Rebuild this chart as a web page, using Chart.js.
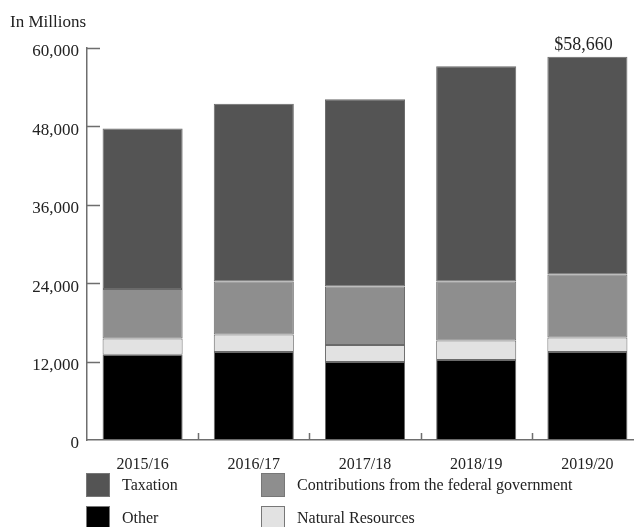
<!DOCTYPE html>
<html lang="en">
<head>
    <meta charset="UTF-8">
    <title>Revenue by Source</title>
    <script src="https://cdn.jsdelivr.net/npm/chart.js"></script>
    <style>
        html, body {
            margin: 0;
            padding: 0;
            background: #fff;
            overflow: hidden;
            width: 634px;
            height: 527px;
        }
        .chart-wrap {
            position: absolute;
            left: 0;
            top: 0;
            width: 660px;
            height: 527px;
        }
        .legend {
            position: absolute;
            left: 86px;
            top: 473px;
            display: grid;
            grid-template-columns: 175px auto;
            row-gap: 9px;
            font-family: "Liberation Serif", "DejaVu Serif", serif;
            font-size: 16px;
            color: #222;
        }
        .legend div {
            display: flex;
            align-items: center;
            height: 24px;
        }
        .legend span.box {
            width: 22px;
            height: 22px;
            border: 1px solid #777;
            margin-right: 12px;
        }
    </style>
</head>
<body>
    <div class="chart-wrap">
        <canvas id="revenueChart" width="660" height="527"></canvas>
    </div>
    <div class="legend" id="legend"></div>

    <script>
        // fiscal years and revenue by source (millions of dollars)
        const years = ['2015/16', '2016/17', '2017/18', '2018/19', '2019/20'];
        const other = [13050, 13460, 11930, 12240, 13460];
        const naturalResources = [2490, 2690, 2600, 3000, 2230];
        const federalContributions = [7560, 8110, 8970, 9020, 9640];
        const taxation = [24560, 27220, 28660, 32940, 33330];
        const yTicks = [0, 12000, 24000, 36000, 48000, 60000];

        const serif = '"Liberation Serif", "DejaVu Serif", serif';
        const axisColor = '#6e6e6e';

        // small inward tick marks on both axes, plus the total above the last bar
        const axisMarks = {
            id: 'axisMarks',
            afterDatasetsDraw(chart) {
                const ctx = chart.ctx;
                const area = chart.chartArea;
                const x = chart.scales.x;
                const y = chart.scales.y;
                ctx.save();
                ctx.strokeStyle = axisColor;
                ctx.lineWidth = 1.5;
                ctx.beginPath();
                yTicks.forEach(v => {
                    if (v === 0) return;
                    const py = Math.round(y.getPixelForValue(v)) + 0.5;
                    ctx.moveTo(area.left, py);
                    ctx.lineTo(area.left + 13, py);
                });
                for (let i = 0; i < years.length - 1; i++) {
                    const px = Math.round((x.getPixelForValue(i) + x.getPixelForValue(i + 1)) / 2) + 0.5;
                    ctx.moveTo(px, area.bottom);
                    ctx.lineTo(px, area.bottom - 7);
                }
                ctx.stroke();

                const last = years.length - 1;
                const total = other[last] + naturalResources[last] + federalContributions[last] + taxation[last];
                const bar = chart.getDatasetMeta(3).data[last];
                ctx.fillStyle = '#222';
                ctx.font = '18px ' + serif;
                ctx.textAlign = 'center';
                ctx.textBaseline = 'bottom';
                ctx.fillText('$' + total.toLocaleString('en-US'), bar.x - 4, bar.y - 2);

                ctx.textAlign = 'left';
                ctx.textBaseline = 'middle';
                ctx.font = '17px ' + serif;
                ctx.fillText('In Millions', 10, 23);
                ctx.restore();
            }
        };

        const barStyle = {
            borderColor: '#6a6a6a',
            borderWidth: 1,
            borderSkipped: false,
            barPercentage: 0.72,
            categoryPercentage: 1.0
        };

        const datasets = [
            { label: 'Other', data: other, backgroundColor: '#000000', ...barStyle },
            { label: 'Natural Resources', data: naturalResources, backgroundColor: '#e2e2e2', ...barStyle },
            { label: 'Contributions from the federal government', data: federalContributions, backgroundColor: '#8e8e8e', ...barStyle },
            { label: 'Taxation', data: taxation, backgroundColor: '#545454', ...barStyle }
        ];

        const chart = new Chart(document.getElementById('revenueChart'), {
            type: 'bar',
            data: { labels: years, datasets: datasets },
            options: {
                responsive: false,
                animation: false,
                layout: { padding: { top: 48, right: 17, left: 0, bottom: 0 } },
                plugins: {
                    legend: { display: false },
                    tooltip: { enabled: false }
                },
                scales: {
                    x: {
                        stacked: true,
                        grid: { display: false, drawTicks: false },
                        border: { display: true, color: axisColor, width: 1.5 },
                        ticks: {
                            color: '#222',
                            padding: 15,
                            font: { family: serif, size: 16 }
                        },
                        afterFit(scale) { scale.height = 87; }
                    },
                    y: {
                        stacked: true,
                        min: 0,
                        max: 60000,
                        grid: { display: false, drawTicks: false },
                        border: { display: true, color: axisColor, width: 1.5 },
                        afterBuildTicks(scale) {
                            scale.ticks = yTicks.map(v => ({ value: v }));
                        },
                        ticks: {
                            color: '#222',
                            padding: 8,
                            labelOffset: 4,
                            font: { family: serif, size: 17 },
                            callback: v => v.toLocaleString('en-US')
                        },
                        afterFit(scale) { scale.width = 87; }
                    }
                }
            },
            plugins: [axisMarks]
        });

        // two-column legend, taxation first as in the stacking order from the top
        const legendOrder = [3, 2, 0, 1];
        document.getElementById('legend').innerHTML = legendOrder.map(i => {
            const ds = datasets[i];
            return `<div><span class="box" style="background:${ds.backgroundColor}"></span>${ds.label}</div>`;
        }).join('');
    </script>
</body>
</html>
